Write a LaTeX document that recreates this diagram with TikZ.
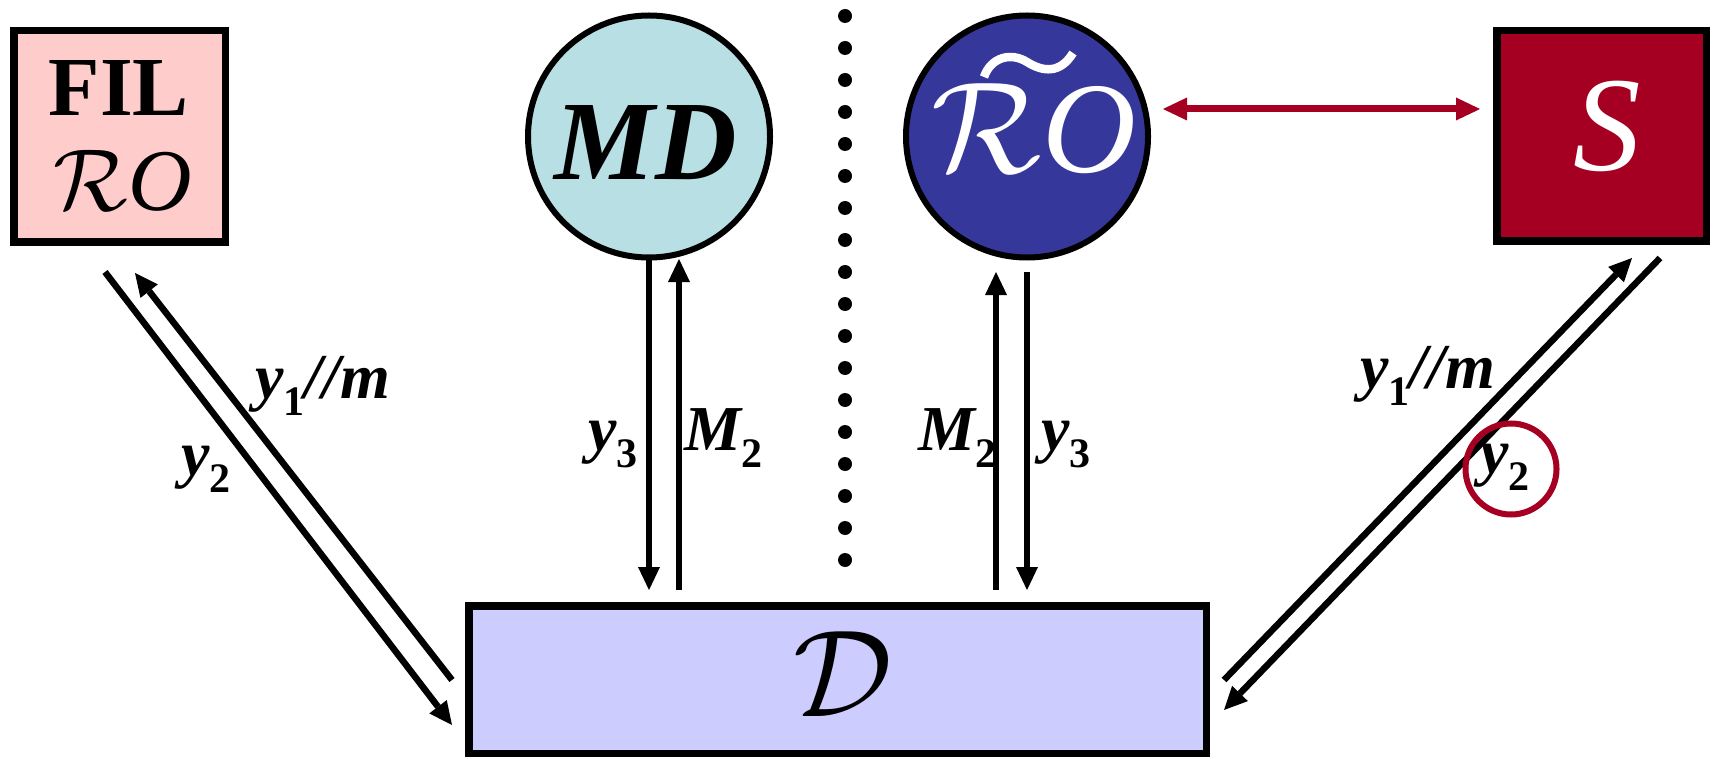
\RequirePackage{fix-cm}
\documentclass[tikz,border=0pt]{standalone}
\usepackage{fontspec}
\setmainfont{Liberation Serif}
\usetikzlibrary{arrows.meta}
\definecolor{pinkfill}{HTML}{FFCCCC}
\definecolor{mdfill}{HTML}{B8E0E4}
\definecolor{roblue}{HTML}{36379A}
\definecolor{crim}{HTML}{A50021}
\definecolor{dfill}{HTML}{CCCCFF}
\newcommand{\labfont}{\fontsize{64}{64}\selectfont\bfseries\itshape}
\newcommand{\lsub}[1]{\raisebox{-17pt}{\fontsize{42}{42}\selectfont\upshape\bfseries #1}}
\begin{document}
\begin{tikzpicture}[x=1pt,y=-1pt,
  box/.style={draw=black,line width=7.5pt,inner sep=0pt,minimum width=211.5pt,minimum height=211.5pt},
  ball/.style={circle,draw=black,line width=6pt,inner sep=0pt,minimum size=242pt},
  arr/.style={line width=6.5pt,-{Triangle[length=23pt,width=22pt,line width=0pt]}},
  redarr/.style={draw=crim,line width=7pt,{Triangle[length=24pt,width=23pt,line width=0pt]}-{Triangle[length=24pt,width=23pt,line width=0pt]}},
  lab/.style={inner sep=0pt,anchor=base west,font=\labfont},
  txt/.style={inner sep=0pt,anchor=base}]
\useasboundingbox (0,0) rectangle (1715,759);

% boxes and circles
\node[box,fill=pinkfill] (fil) at (119.5,136.5) {};
\node[txt,font=\fontsize{84}{84}\selectfont\bfseries] (filt) at (119,116) {FIL};
\node[txt,font=\fontsize{88}{88}\selectfont] (filro) at (123,211) {$\mathcal{R}$\textit{O}};

\node[ball,fill=mdfill] (md) at (649,136.5) {};
\node[txt,font=\fontsize{113}{113}\selectfont\bfseries\itshape] (mdt) at (646,180) {MD};

\node[ball,fill=roblue] (ro) at (1027,136.5) {};
\node[txt,text=white,font=\fontsize{130}{130}\selectfont] (rot) at (1034,173) {$\mathcal{R}$\textit{O}};
\draw[white,line width=8.5pt] (984,77) .. controls (991,57) and (1011,52) .. (1027,62)
      .. controls (1043,72) and (1060,74) .. (1073,53);

\node[box,fill=crim,minimum width=209.5pt,minimum height=210.5pt] (s) at (1601.5,136) {};
\node[txt,text=white,font=\fontsize{135}{135}\selectfont\itshape] (st) at (1607,171) {S};

\node[box,fill=dfill,minimum width=737.5pt,minimum height=147.5pt] (d) at (837.5,679.5) {};
\node[txt,font=\fontsize{124}{124}\selectfont] (dt) at (843,716) {$\mathcal{D}$};

% dotted separator
\foreach \i in {0,...,17} \fill (845,16+32*\i) circle (7pt);

% red double arrow
\coordinate (ra) at (1163,109);
\coordinate (rb) at (1480,109);
\draw[redarr] (ra) -- (rb);

% vertical arrows
\coordinate (m1a) at (649,257); \coordinate (m1b) at (649,590);
\coordinate (m2a) at (679,590); \coordinate (m2b) at (679,259);
\coordinate (r1a) at (996,590); \coordinate (r1b) at (996,272);
\coordinate (r2a) at (1027,272); \coordinate (r2b) at (1027,590);
\draw[arr] (m1a) -- (m1b);
\draw[arr] (m2a) -- (m2b);
\draw[arr] (r1a) -- (r1b);
\draw[arr] (r2a) -- (r2b);

% left diagonal arrows
\coordinate (la1) at (105,272); \coordinate (lb1) at (452,725);
\coordinate (la2) at (452,680); \coordinate (lb2) at (135,273);
\draw[arr] (la1) -- (lb1);
\draw[arr] (la2) -- (lb2);

% right diagonal arrows
\coordinate (ra1) at (1224,680); \coordinate (rb1) at (1632,258);
\coordinate (ra2) at (1660,258); \coordinate (rb2) at (1224,710);
\draw[arr] (ra1) -- (rb1);
\draw[arr] (ra2) -- (rb2);

% red ring
\node[circle,draw=crim,line width=6pt,minimum size=91pt,inner sep=0pt] (ring) at (1511,469) {};

% labels
\node[lab] (l1) at (255,398) {y\lsub{1}//m};
\node[lab] (l2) at (181,475) {y\lsub{2}};
\node[lab] (l3) at (588,450) {y\lsub{3}};
\node[lab] (l4) at (684,450) {M\lsub{2}};
\node[lab] (l5) at (918,450) {M\lsub{2}};
\node[lab] (l6) at (1041,450) {y\lsub{3}};
\node[lab] (l7) at (1360,388) {y\lsub{1}//m};
\node[lab] (l8) at (1480,473) {y\lsub{2}};
\end{tikzpicture}
\end{document}
